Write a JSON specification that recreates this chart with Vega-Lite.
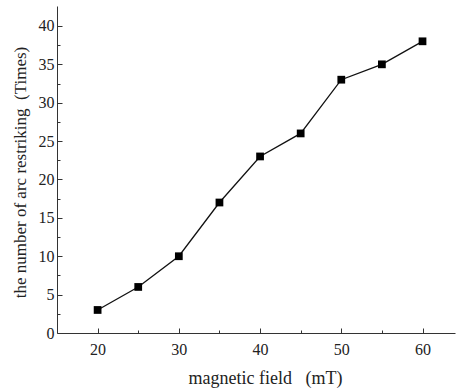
{
  "$schema": "https://vega.github.io/schema/vega-lite/v6.json",
  "width": 398,
  "height": 327,
  "autosize": {"type": "none"},
  "padding": {"left": 57, "top": 6, "right": 2, "bottom": 57},
  "background": "white",
  "config": {
    "view": {"stroke": null},
    "font": "Liberation Serif",
    "axis": {
      "labelFont": "Liberation Serif",
      "titleFont": "Liberation Serif",
      "labelFontSize": 16,
      "titleFontSize": 18,
      "titleFontWeight": "normal",
      "labelColor": "#222",
      "titleColor": "#222",
      "domainColor": "#333",
      "tickColor": "#333",
      "grid": false
    }
  },
  "data": {
    "values": [
      {"field": 20, "count": 3},
      {"field": 25, "count": 6},
      {"field": 30, "count": 10},
      {"field": 35, "count": 17},
      {"field": 40, "count": 23},
      {"field": 45, "count": 26},
      {"field": 50, "count": 33},
      {"field": 55, "count": 35},
      {"field": 60, "count": 38}
    ]
  },
  "encoding": {
    "x": {
      "field": "field",
      "type": "quantitative",
      "scale": {"domain": [15, 64], "nice": false, "zero": false},
      "axis": {
        "title": "magnetic field\u00a0\u00a0\u00a0(mT)",
        "values": [20, 25, 30, 35, 40, 45, 50, 55, 60],
        "labelExpr": "datum.value % 10 === 0 ? datum.label : ''",
        "tickSize": {"condition": {"test": "datum.value % 10 === 0", "value": -5}, "value": -3},
        "labelPadding": 13,
        "titleX": 208,
        "titleY": 50,
        "titleBaseline": "alphabetic",
        "titleAlign": "center"
      }
    },
    "y": {
      "field": "count",
      "type": "quantitative",
      "scale": {"domain": [0, 42.6], "nice": false},
      "axis": {
        "title": "the number of arc restriking\u00a0\u00a0(Times)",
        "titleFontSize": 17,
        "values": [0, 2.5, 5, 7.5, 10, 12.5, 15, 17.5, 20, 22.5, 25, 27.5, 30, 32.5, 35, 37.5, 40],
        "labelExpr": "datum.value % 5 === 0 ? datum.label : ''",
        "tickSize": {"condition": {"test": "datum.value % 5 === 0", "value": -5}, "value": -3},
        "labelPadding": 8,
        "titleX": -32,
        "titleY": 166,
        "titleAngle": -90,
        "titleBaseline": "alphabetic",
        "titleAlign": "center"
      }
    }
  },
  "layer": [
    {"mark": {"type": "line", "color": "#111", "strokeWidth": 1.3}},
    {"mark": {"type": "square", "color": "#000", "size": 60, "opacity": 1, "filled": true}}
  ]
}
